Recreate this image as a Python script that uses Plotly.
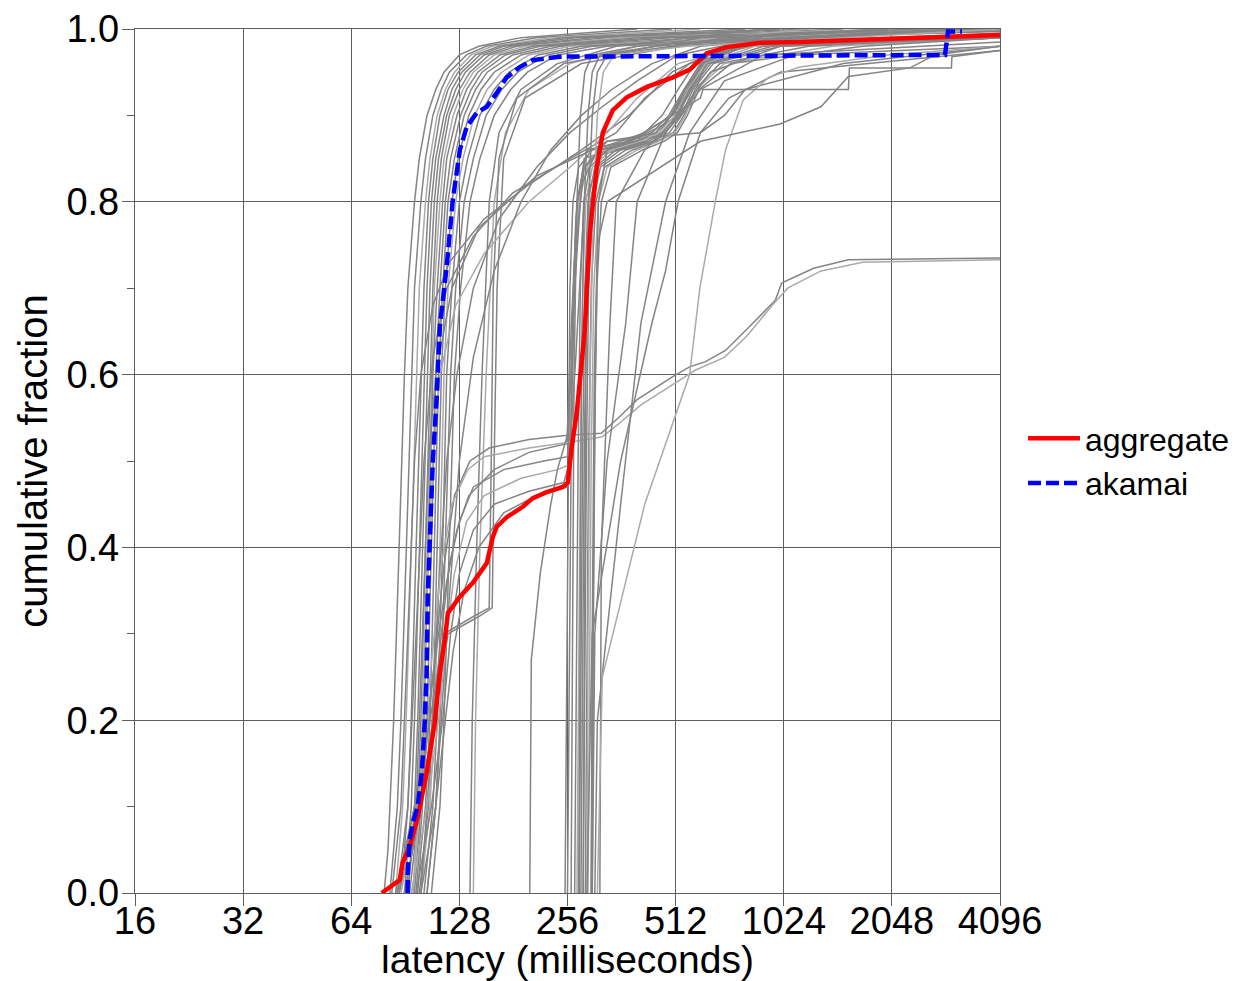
import plotly.graph_objects as go

# ---------------- axes ----------------
x_tick_values = [16, 32, 64, 128, 256, 512, 1024, 2048, 4096]
x_tick_labels = ["16", "32", "64", "128", "256", "512", "1024", "2048", "4096"]
y_tick_values = [0.0, 0.2, 0.4, 0.6, 0.8, 1.0]
y_tick_labels = ["0.0", "0.2", "0.4", "0.6", "0.8", "1.0"]
y_minor_values = [0.1, 0.3, 0.5, 0.7, 0.9]

# ---------------- highlighted series ----------------
aggregate_ms = [77.8, 87.3, 89, 93, 98, 103.8, 109.3, 112.9, 116.6, 118.9, 128.4, 139.5,
                152.6, 158.6, 162.7, 173.4, 192.2, 205, 224, 248.5, 256.5, 263, 271.7,
                280.7, 286, 295.4, 308.9, 321, 342, 374.5, 426, 503, 560.7, 598, 625.5,
                711, 878.6, 1135, 1745, 2840, 4096]
aggregate_frac = [0, 0.015, 0.035, 0.053, 0.088, 0.139, 0.197, 0.255, 0.293, 0.324, 0.343,
                  0.359, 0.382, 0.412, 0.424, 0.435, 0.447, 0.457, 0.464, 0.470, 0.475,
                  0.516, 0.556, 0.613, 0.652, 0.764, 0.840, 0.880, 0.906, 0.921, 0.933,
                  0.944, 0.953, 0.964, 0.972, 0.979, 0.984, 0.985, 0.988, 0.991, 0.993]

akamai_ms = [91.9, 91.9, 93, 95, 98, 100.6, 102.5, 103.8, 104.5, 105.9, 107.9, 110.7, 112.9,
             118, 122.7, 128.4, 134.2, 143.1, 152.6, 162.7, 173.4, 188.5, 205, 243.7,
             2879, 2935, 3209]
akamai_frac = [0, 0.023, 0.061, 0.081, 0.100, 0.139, 0.197, 0.255, 0.343, 0.420, 0.498,
               0.574, 0.655, 0.725, 0.802, 0.860, 0.887, 0.903, 0.910, 0.926, 0.944, 0.956,
               0.964, 0.968, 0.970, 0.997, 0.997]

# ---------------- individual sites (gray) ----------------
# fast sites: latency (ms) reached at each cumulative fraction level
fast_levels = [0, 0.05, 0.1, 0.2, 0.4, 0.6, 0.7, 0.8, 0.85, 0.9, 0.93, 0.95, 0.97, 0.98, 0.99, 1.0]
fast_01 = [79, 81, 82, 84, 87, 90, 92, 96, 99, 104, 110, 116, 128, 145, 190, 400]
fast_02 = [82, 84, 86, 88, 91, 94, 96, 100, 103, 108, 114, 120, 134, 152, 210, 500]
fast_03 = [85, 87, 89, 91, 94, 97, 99, 103, 106, 111, 117, 124, 138, 158, 230, 600]
fast_04 = [87, 90, 92, 94, 97, 100, 102, 105, 108, 113, 119, 127, 142, 165, 250, 800]
fast_05 = [90, 92, 94, 96, 99, 102, 104, 107, 110, 116, 122, 130, 146, 170, 270, 1000]
fast_06 = [92, 94, 96, 98, 101, 104, 106, 109, 112, 118, 125, 133, 150, 178, 300, 1200]
fast_07 = [93, 96, 98, 100, 103, 106, 108, 111, 114, 120, 128, 137, 155, 185, 330, 1500]
fast_08 = [95, 97, 99, 101, 104, 107, 109, 113, 116, 123, 131, 140, 160, 195, 360, 2000]
fast_09 = [96, 98, 100, 102, 105, 108, 111, 115, 118, 126, 134, 144, 166, 205, 400, 2500]
fast_10 = [97, 99, 101, 104, 107, 110, 113, 117, 121, 129, 138, 148, 172, 215, 450, 3000]
fast_11 = [98, 100, 103, 106, 109, 112, 115, 119, 124, 132, 142, 153, 180, 230, 500, 4096]
fast_12 = [99, 102, 105, 108, 111, 114, 117, 122, 127, 136, 147, 160, 190, 245, 600, 4096]
fast_13 = [100, 103, 106, 109, 113, 116, 119, 125, 131, 141, 153, 168, 200, 260, 700, 4096]
fast_14 = [102, 105, 108, 111, 115, 118, 122, 128, 135, 146, 160, 176, 212, 280, 850, 4096]
fast_15 = [104, 107, 110, 113, 117, 121, 125, 132, 140, 152, 168, 186, 225, 300, 1000, 4096]
fast_16 = [107, 110, 113, 116, 120, 124, 129, 137, 146, 160, 178, 198, 240, 330, 1300, 4096]

# sites rising steeply around 140-160 ms
mid_levels = [0, 0.2, 0.4, 0.6, 0.8, 0.88, 0.93, 0.96, 0.98, 1.0]
mid_01 = [137, 139, 143, 148, 155, 165, 190, 240, 350, 900]
mid_02 = [140, 142, 146, 152, 160, 172, 200, 260, 400, 1200]

step_levels = [0, 0.1, 0.2, 0.3, 0.32, 0.33, 0.5, 0.7, 0.85, 0.92, 0.96, 0.99, 1.0]
step_01 = [85, 96, 106, 116, 140, 155, 157, 159, 165, 185, 250, 600, 2000]
step_02 = [87, 99, 109, 119, 145, 158, 160, 163, 170, 195, 280, 700, 3000]

# fast start, long diagonal tail
tail_01_ms = [83, 88, 92, 96, 100, 108, 120, 150, 200, 280, 380, 500, 700, 2000]
tail_01_frac = [0, 0.1, 0.3, 0.5, 0.6, 0.68, 0.73, 0.78, 0.82, 0.86, 0.9, 0.95, 0.98, 0.995]
tail_02_ms = [86, 92, 97, 102, 108, 118, 140, 180, 260, 350, 420, 560, 900, 4096]
tail_02_frac = [0, 0.1, 0.3, 0.5, 0.62, 0.7, 0.76, 0.81, 0.85, 0.88, 0.92, 0.96, 0.985, 0.995]
tail_03_ms = [95, 100, 104, 108, 113, 125, 150, 200, 260, 330, 400, 520, 800, 4096]
tail_03_frac = [0, 0.15, 0.35, 0.5, 0.6, 0.68, 0.74, 0.8, 0.84, 0.88, 0.92, 0.96, 0.98, 0.99]
tail_04_ms = [100, 106, 112, 118, 126, 140, 165, 210, 260, 320, 400, 520, 900, 4096]
tail_04_frac = [0, 0.15, 0.35, 0.5, 0.6, 0.7, 0.78, 0.84, 0.88, 0.91, 0.94, 0.97, 0.99, 0.997]
tail_05_ms = [104, 110, 118, 128, 140, 160, 190, 230, 280, 340, 440, 600, 1500]
tail_05_frac = [0, 0.1, 0.3, 0.5, 0.62, 0.72, 0.8, 0.86, 0.9, 0.93, 0.96, 0.98, 0.995]
tail_06_ms = [92, 97, 101, 105, 110, 122, 145, 175, 210, 300, 330, 600, 700, 800, 1500, 4096]
tail_06_frac = [0, 0.1, 0.3, 0.5, 0.6, 0.7, 0.77, 0.8, 0.83, 0.86, 0.87, 0.88, 0.9, 0.93, 0.96, 0.98]

# two populations: plateau near 0.5 then jump at ~260 ms
bimodal_01_ms = [90, 100, 108, 114, 120, 128, 140, 170, 220, 256, 262, 270, 285, 360, 480, 580, 700, 1500, 4096]
bimodal_01_frac = [0, 0.1, 0.2, 0.3, 0.38, 0.43, 0.47, 0.49, 0.5, 0.505, 0.6, 0.78, 0.85, 0.865, 0.89, 0.95, 0.98, 0.995, 1.0]
bimodal_02_ms = [94, 104, 112, 118, 124, 134, 150, 190, 240, 258, 265, 275, 295, 400, 520, 600, 900, 3000]
bimodal_02_frac = [0, 0.1, 0.2, 0.3, 0.37, 0.43, 0.46, 0.48, 0.49, 0.495, 0.65, 0.8, 0.85, 0.87, 0.9, 0.96, 0.99, 1.0]
bimodal_03_ms = [97, 107, 115, 121, 128, 140, 160, 200, 250, 260, 268, 280, 310, 440, 550, 630, 1100, 4096]
bimodal_03_frac = [0, 0.1, 0.2, 0.3, 0.37, 0.42, 0.45, 0.465, 0.475, 0.5, 0.7, 0.82, 0.86, 0.875, 0.92, 0.97, 0.99, 0.998]
bimodal_04_ms = [100, 110, 117, 123, 132, 145, 170, 210, 256, 270, 285, 320, 450, 560, 620, 800, 2000]
bimodal_04_frac = [0, 0.1, 0.2, 0.28, 0.35, 0.4, 0.44, 0.46, 0.47, 0.62, 0.8, 0.855, 0.87, 0.91, 0.96, 0.985, 0.997]
bimodal_05_ms = [86, 96, 104, 112, 118, 126, 136, 160, 200, 255, 262, 272, 290, 380, 500, 590, 720, 1800]
bimodal_05_frac = [0, 0.1, 0.2, 0.3, 0.36, 0.42, 0.46, 0.49, 0.51, 0.52, 0.65, 0.8, 0.86, 0.87, 0.9, 0.95, 0.98, 0.996]

# plateau near 0.5 then slow tail (ends ~0.73)
slow_01_ms = [90, 100, 108, 116, 124, 137, 155, 200, 260, 318, 355, 400, 500, 560, 620, 705, 820, 970, 1010, 1240, 1550, 4096]
slow_01_frac = [0, 0.1, 0.25, 0.38, 0.46, 0.5, 0.515, 0.525, 0.53, 0.532, 0.55, 0.571, 0.597, 0.609, 0.615, 0.628, 0.655, 0.686, 0.706, 0.723, 0.733, 0.735]
slow_02_ms = [88, 98, 106, 114, 122, 135, 150, 200, 262, 320, 360, 410, 510, 580, 700, 810, 950, 1050, 1300, 1700, 4096]
slow_02_frac = [0, 0.1, 0.25, 0.38, 0.45, 0.49, 0.505, 0.515, 0.522, 0.528, 0.545, 0.565, 0.59, 0.605, 0.62, 0.645, 0.68, 0.7, 0.72, 0.73, 0.733]

# late starter (~200 ms)
late_ms = [201, 202, 203, 215, 230, 240, 256, 262, 270, 285, 330, 460, 560, 620, 1000, 4096]
late_frac = [0, 0.15, 0.27, 0.37, 0.45, 0.49, 0.53, 0.6, 0.75, 0.84, 0.87, 0.88, 0.93, 0.97, 0.99, 1.0]

# sites around 256-310 ms with a knee near 0.86
far_levels = [0, 0.1, 0.3, 0.5, 0.7, 0.8, 0.84, 0.86, 0.87, 0.88, 0.9, 0.93, 0.96, 0.98, 0.99]
far_01 = [252, 253, 255, 257, 260, 265, 275, 300, 360, 420, 470, 520, 580, 700, 1500]
far_02 = [256, 257, 259, 262, 266, 272, 285, 320, 380, 440, 490, 540, 600, 760, 2000]
far_03 = [268, 269, 271, 274, 278, 284, 295, 330, 400, 450, 500, 545, 610, 800, 2500]
far_04 = [272, 273, 275, 278, 282, 288, 300, 340, 410, 460, 510, 555, 620, 850, 3000]
far_05 = [276, 277, 279, 282, 286, 292, 305, 350, 420, 470, 515, 560, 630, 900, 3500]
far_06 = [279, 280, 282, 285, 289, 296, 310, 360, 430, 480, 520, 565, 640, 950, 4096]
far_07 = [283, 284, 286, 289, 293, 301, 316, 372, 442, 492, 532, 572, 652, 1000, 4096]
far_08 = [287, 288, 290, 293, 298, 307, 324, 388, 454, 504, 540, 580, 680, 1200, 4096]
far_09 = [292, 293, 295, 298, 303, 312, 330, 400, 460, 510, 545, 585, 700, 1400, 4096]
far_10 = [298, 299, 301, 304, 309, 318, 338, 415, 475, 518, 552, 595, 730, 1700, 4096]

# sites rising straight up at ~260-300 ms
direct_levels = [0, 0.3, 0.6, 0.8, 0.9, 0.95, 0.97, 0.98, 0.99, 1.0]
direct_01 = [262, 264, 267, 272, 278, 286, 300, 400, 800, 2000]
direct_02 = [275, 277, 280, 285, 292, 300, 315, 450, 1000, 3000]
direct_03 = [283, 285, 288, 293, 300, 310, 330, 500, 1200, 4096]
direct_04 = [290, 292, 296, 302, 310, 322, 345, 550, 1500, 4096]

# slow sites
slow_site_01_ms = [315, 318, 336, 350, 420, 520, 640, 1000, 4096]
slow_site_01_frac = [0, 0.4, 0.66, 0.8, 0.86, 0.9, 0.95, 0.98, 0.99]
slow_site_02_ms = [300, 305, 330, 372, 400, 480, 600, 900, 4096]
slow_site_02_frac = [0, 0.3, 0.5, 0.66, 0.8, 0.88, 0.93, 0.97, 0.985]
slow_site_03_ms = [305, 310, 360, 410, 480, 560, 700, 1100, 4096]
slow_site_03_frac = [0, 0.2, 0.45, 0.66, 0.8, 0.88, 0.94, 0.97, 0.98]
slow_site_04_ms = [290, 300, 360, 440, 480, 520, 600, 720, 1000, 4096]
slow_site_04_frac = [0, 0.3, 0.5, 0.66, 0.72, 0.8, 0.88, 0.92, 0.95, 0.975]
slow_site_05_ms = [310, 320, 420, 560, 598, 660, 705, 790, 930, 1135, 2000, 4096]
slow_site_05_frac = [0, 0.25, 0.45, 0.6, 0.7, 0.8, 0.86, 0.918, 0.944, 0.956, 0.97, 0.98]
slow_site_06_ms = [298, 300, 304, 310, 330, 600, 1000, 1300, 1550, 2300, 2700, 4096]
slow_site_06_frac = [0, 0.3, 0.6, 0.75, 0.8, 0.87, 0.89, 0.91, 0.945, 0.955, 0.97, 0.98]
stepped_ms = [300, 302, 306, 312, 330, 420, 600, 610, 1550, 1560, 3000, 3010, 4096]
stepped_frac = [0, 0.3, 0.6, 0.8, 0.86, 0.88, 0.92, 0.93, 0.93, 0.955, 0.955, 0.968, 0.975]

GRAY = "#848484"
LIGHT_GRAY = "#aaaaaa"

gray_series = []
for row in [fast_01, fast_02, fast_03, fast_04, fast_05, fast_06, fast_07, fast_08,
            fast_09, fast_10, fast_11, fast_12, fast_13, fast_14, fast_15, fast_16]:
    gray_series.append((row, fast_levels))
for row in [mid_01, mid_02]:
    gray_series.append((row, mid_levels))
for row in [step_01, step_02]:
    gray_series.append((row, step_levels))
gray_series += [
    (tail_01_ms, tail_01_frac), (tail_02_ms, tail_02_frac), (tail_03_ms, tail_03_frac),
    (tail_04_ms, tail_04_frac), (tail_05_ms, tail_05_frac), (tail_06_ms, tail_06_frac),
    (bimodal_01_ms, bimodal_01_frac), (bimodal_02_ms, bimodal_02_frac),
    (bimodal_03_ms, bimodal_03_frac), (bimodal_04_ms, bimodal_04_frac),
    (bimodal_05_ms, bimodal_05_frac),
    (slow_01_ms, slow_01_frac), (slow_02_ms, slow_02_frac),
    (late_ms, late_frac),
]
for row in [far_01, far_02, far_03, far_04, far_05, far_06, far_07, far_08, far_09, far_10]:
    gray_series.append((row, far_levels))
for row in [direct_01, direct_02, direct_03, direct_04]:
    gray_series.append((row, direct_levels))
gray_series += [
    (slow_site_01_ms, slow_site_01_frac), (slow_site_02_ms, slow_site_02_frac),
    (slow_site_03_ms, slow_site_03_frac), (slow_site_04_ms, slow_site_04_frac),
    (slow_site_05_ms, slow_site_05_frac), (slow_site_06_ms, slow_site_06_frac),
    (stepped_ms, stepped_frac),
]

fig = go.Figure()
for i, (xs, ys) in enumerate(gray_series):
    fig.add_trace(go.Scatter(
        x=xs, y=ys, mode="lines", showlegend=False, hoverinfo="skip",
        line=dict(color=LIGHT_GRAY if i % 5 == 2 else GRAY, width=1.5),
    ))

fig.add_trace(go.Scatter(
    x=aggregate_ms, y=aggregate_frac, mode="lines", name="aggregate",
    line=dict(color="#ff0000", width=4.5),
))
fig.add_trace(go.Scatter(
    x=akamai_ms, y=akamai_frac, mode="lines", name="akamai",
    line=dict(color="#0000ff", width=4.5, dash="13px,5px"),
))

FONT = "Liberation Sans, Arial, Helvetica, sans-serif"
GRID = "#5e5e5e"

# the page adds an 8px body margin, so the figure is 8px smaller on each axis
fig.update_layout(
    width=1239, height=973,
    margin=dict(l=127, r=247, t=21, b=88, autoexpand=False),
    paper_bgcolor="white", plot_bgcolor="white",
    font=dict(family=FONT, size=38, color="black"),
    legend=dict(
        x=1.0266, y=0.5, xanchor="left", yanchor="middle",
        font=dict(family=FONT, size=32, color="black"),
        bgcolor="rgba(0,0,0,0)", borderwidth=0,
        tracegroupgap=0, itemwidth=52,
    ),
)
fig.update_xaxes(
    type="log", range=[1.2041200, 3.6123599], automargin=False,
    tickmode="array", tickvals=x_tick_values, ticktext=x_tick_labels,
    ticks="outside", ticklen=12, tickwidth=1.3, tickcolor=GRID,
    ticklabelstandoff=-18,
    showgrid=True, gridcolor=GRID, gridwidth=1.3,
    showline=True, linecolor=GRID, linewidth=1.3, mirror=True,
    zeroline=False,
    tickfont=dict(family=FONT, size=38, color="black"),
    title=dict(text="latency (milliseconds)", standoff=4,
               font=dict(family=FONT, size=39, color="black")),
)
fig.update_yaxes(
    range=[0, 1], automargin=False,
    tickmode="array", tickvals=y_tick_values, ticktext=y_tick_labels,
    ticks="outside", ticklen=12, tickwidth=1.3, tickcolor=GRID,
    ticklabelstandoff=-5,
    minor=dict(tickmode="array", tickvals=y_minor_values, ticks="outside",
               ticklen=7, tickwidth=1.3, tickcolor=GRID, showgrid=False),
    showgrid=True, gridcolor=GRID, gridwidth=1.3,
    showline=True, linecolor=GRID, linewidth=1.3, mirror=True,
    zeroline=False,
    tickfont=dict(family=FONT, size=38, color="black"),
    title=dict(text="cumulative fraction", standoff=6,
               font=dict(family=FONT, size=40, color="black")),
)

fig.write_html("out.html", config={"displayModeBar": False})
